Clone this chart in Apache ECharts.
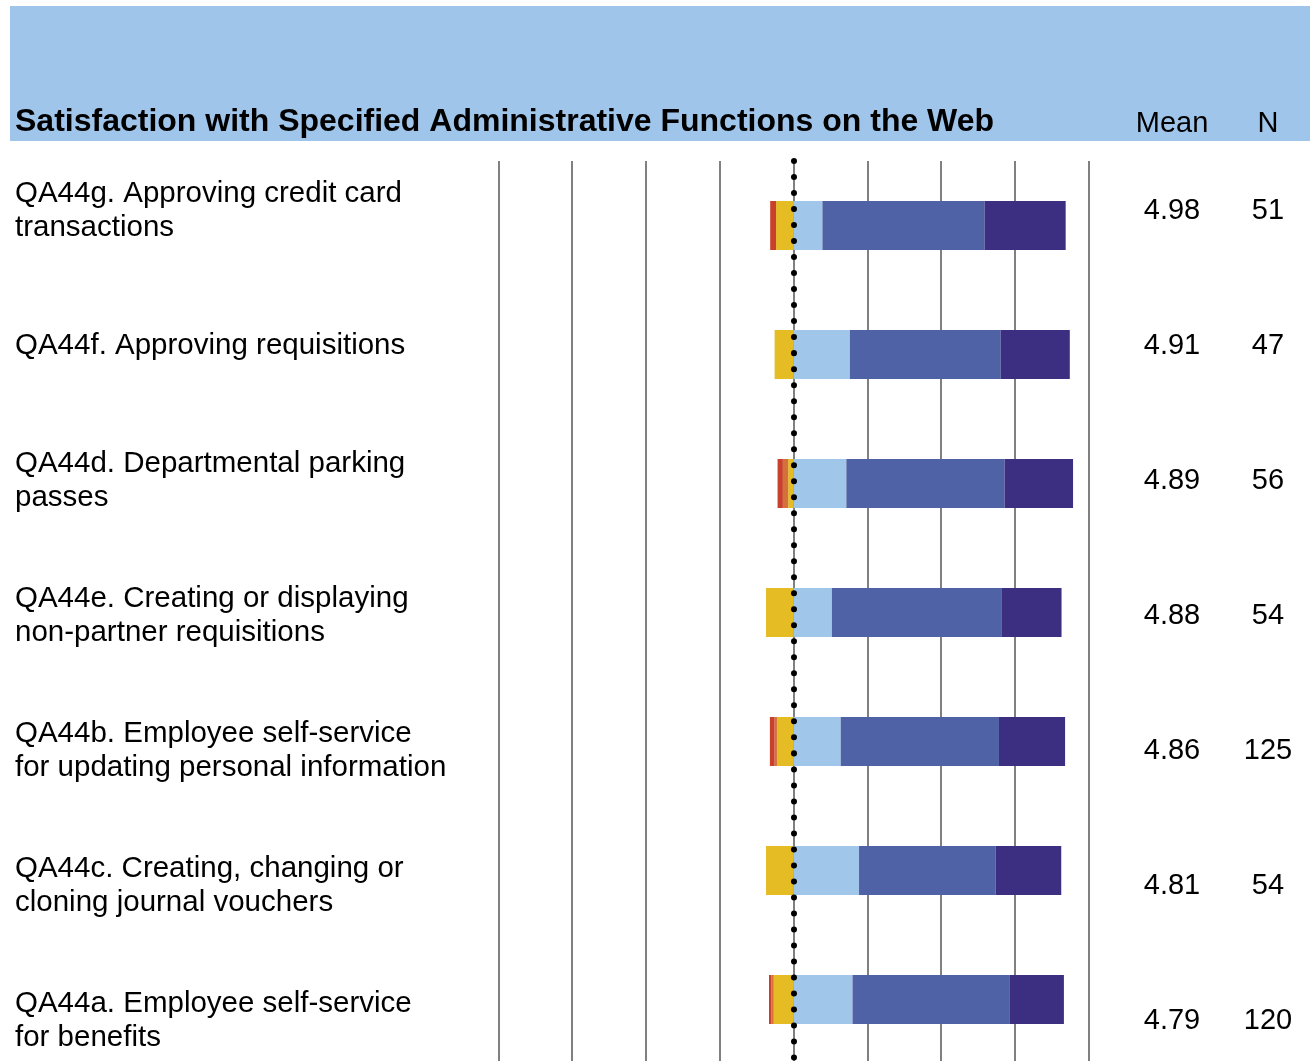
<!DOCTYPE html>
<html>
<head>
<meta charset="utf-8">
<script src="https://cdn.jsdelivr.net/npm/echarts@6/dist/echarts.min.js"></script>
<style>
html,body{margin:0;padding:0;background:#fff;}
#chart{width:1310px;height:1061px;}
</style>
</head>
<body>
<div id="chart"></div>
<script>
// ---- data ----
const categories = [
  'QA44g. Approving credit card\ntransactions',
  'QA44f. Approving requisitions',
  'QA44d. Departmental parking\npasses',
  'QA44e. Creating or displaying\nnon-partner requisitions',
  'QA44b. Employee self-service\nfor updating personal information',
  'QA44c. Creating, changing or\ncloning journal vouchers',
  'QA44a. Employee self-service\nfor benefits'
];
const means = ['4.98', '4.91', '4.89', '4.88', '4.86', '4.81', '4.79'];
const counts = ['51', '47', '56', '54', '125', '54', '120'];
// percentages of respondents (negative side drawn left of zero)
const veryDissatisfied = [2.0, 0, 1.8, 0, 1.6, 0, 0.8];
const dissatisfied     = [0, 0, 1.8, 0, 0.8, 0, 0.8];
const slightlyDissat   = [5.9, 6.4, 1.8, 9.3, 5.6, 9.3, 6.7];
const slightlySat      = [9.8, 19.1, 17.9, 13.0, 16.0, 22.2, 20.0];
const satisfied        = [54.9, 51.1, 53.6, 57.4, 53.6, 46.3, 53.3];
const verySatisfied    = [27.5, 23.4, 23.2, 20.4, 22.4, 22.2, 18.3];
const xTicks = [-100, -75, -50, -25, 0, 25, 50, 75, 100];

const FONT = '"Liberation Sans", Arial, sans-serif';
const neg = a => a.map(v => -v);

const chart = echarts.init(document.getElementById('chart'), null, {renderer: 'canvas'});

const barCommon = {
  type: 'bar', stack: 'resp', barWidth: 49, xAxisIndex: 0, yAxisIndex: 0,
  silent: true, animation: false
};

const option = {
  backgroundColor: '#ffffff',
  animation: false,
  graphic: [
    {type: 'rect', shape: {x: 10, y: 6, width: 1300, height: 135}, style: {fill: '#A0C5EA'}, z: -10},
    {type: 'text', style: {text: 'Satisfaction with Specified Administrative Functions on the Web', x: 15, y: 122.5,
      font: 'bold 32px ' + FONT, fill: '#000', textVerticalAlign: 'middle', textAlign: 'left'}},
    {type: 'text', style: {text: 'Mean', x: 1172, y: 124, font: '29px ' + FONT, fill: '#000',
      textVerticalAlign: 'middle', textAlign: 'center'}},
    {type: 'text', style: {text: 'N', x: 1268, y: 124, font: '29px ' + FONT, fill: '#000',
      textVerticalAlign: 'middle', textAlign: 'center'}}
  ],
  grid: [
    {left: 498.3, top: 161, width: 590.4, height: 903, outerBoundsMode: 'none', containLabel: false},
    {left: 15, top: 143.5, width: 400, height: 945, outerBoundsMode: 'none', containLabel: false},
    {left: 1172, top: 143.5, width: 1, height: 945, outerBoundsMode: 'none', containLabel: false},
    {left: 1268, top: 143.5, width: 1, height: 945, outerBoundsMode: 'none', containLabel: false}
  ],
  xAxis: [
    {gridIndex: 0, type: 'value', min: xTicks[0], max: xTicks[xTicks.length - 1], interval: 25,
      axisLine: {show: false}, axisTick: {show: false}, axisLabel: {show: false},
      splitLine: {show: true, lineStyle: {color: '#808080', width: 2}}},
    {gridIndex: 1, type: 'value', show: false},
    {gridIndex: 2, type: 'value', show: false},
    {gridIndex: 3, type: 'value', show: false}
  ],
  yAxis: [
    {gridIndex: 0, type: 'category', data: categories, inverse: true, show: false},
    {gridIndex: 1, type: 'category', data: categories, inverse: true,
      axisLine: {show: false}, axisTick: {show: false}, splitLine: {show: false},
      axisLabel: {inside: true, align: 'left', margin: 0, fontSize: 29.5, lineHeight: 34.5,
        color: '#000', fontFamily: FONT}},
    {gridIndex: 2, type: 'category', data: means, inverse: true,
      axisLine: {show: false}, axisTick: {show: false}, splitLine: {show: false},
      axisLabel: {align: 'center', margin: 0, fontSize: 29, color: '#000', fontFamily: FONT}},
    {gridIndex: 3, type: 'category', data: counts, inverse: true,
      axisLine: {show: false}, axisTick: {show: false}, splitLine: {show: false},
      axisLabel: {align: 'center', margin: 0, fontSize: 29, color: '#000', fontFamily: FONT}}
  ],
  series: [
    Object.assign({}, barCommon, {name: 'Slightly dissatisfied', data: neg(slightlyDissat), itemStyle: {color: '#E5BC24'}}),
    Object.assign({}, barCommon, {name: 'Dissatisfied', data: neg(dissatisfied), itemStyle: {color: '#D4703A'}}),
    Object.assign({}, barCommon, {name: 'Very dissatisfied', data: neg(veryDissatisfied), itemStyle: {color: '#C8412A'}}),
    Object.assign({}, barCommon, {name: 'Slightly satisfied', data: slightlySat, itemStyle: {color: '#A0C6EA'}}),
    Object.assign({}, barCommon, {name: 'Satisfied', data: satisfied, itemStyle: {color: '#4F62A6'}}),
    Object.assign({}, barCommon, {name: 'Very satisfied', data: verySatisfied, itemStyle: {color: '#3C2E80'},
      markLine: {silent: true, symbol: 'none', label: {show: false}, animation: false,
        lineStyle: {color: '#000', width: 6, type: [0.01, 16], cap: 'round'},
        data: [{xAxis: 0}]}})
  ]
};
chart.setOption(option);
</script>
</body>
</html>
